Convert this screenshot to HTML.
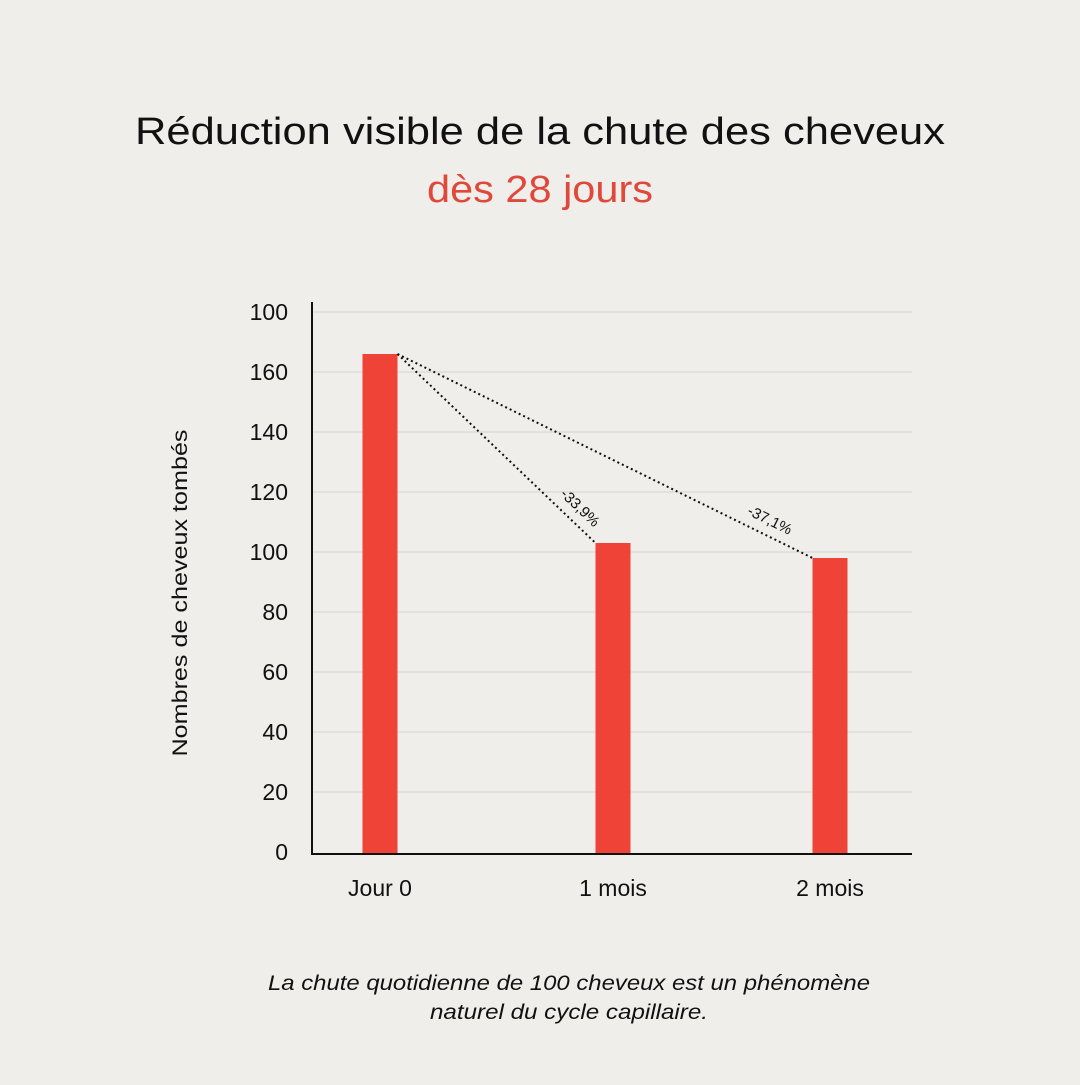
<!DOCTYPE html>
<html><head><meta charset="utf-8">
<style>
html,body{margin:0;padding:0;background:#efeeeb;}
body{width:1080px;height:1080px;overflow:hidden;font-family:"Liberation Sans",sans-serif;}
</style></head>
<body>
<svg width="1080" height="1080" xmlns="http://www.w3.org/2000/svg">
<rect width="1080" height="1080" fill="#efeeeb"/>
<text x="540" y="144" text-anchor="middle" font-size="38" fill="#111" textLength="810" lengthAdjust="spacingAndGlyphs">Réduction visible de la chute des cheveux</text>
<text x="540" y="202" text-anchor="middle" font-size="38" fill="#e0483a" textLength="226" lengthAdjust="spacingAndGlyphs">dès 28 jours</text>
<g id="grid"></g>
<g id="yticks"></g>
<g id="bars"></g>
<g id="xlabels"></g>
<g id="annot"></g>
<line x1="312" y1="302" x2="312" y2="854" stroke="#111" stroke-width="2"/>
<line x1="311" y1="854" x2="912" y2="854" stroke="#111" stroke-width="2"/>
<text transform="translate(187,593) rotate(-90)" text-anchor="middle" font-size="21" fill="#111" textLength="327" lengthAdjust="spacingAndGlyphs">Nombres de cheveux tombés</text>
<text x="569" y="990" text-anchor="middle" font-size="21" font-style="italic" fill="#111" textLength="602" lengthAdjust="spacingAndGlyphs">La chute quotidienne de 100 cheveux est un phénomène</text>
<text x="569" y="1019" text-anchor="middle" font-size="21" font-style="italic" fill="#111" textLength="278" lengthAdjust="spacingAndGlyphs">naturel du cycle capillaire.</text>
</svg>
<script>
const categories = ["Jour 0", "1 mois", "2 mois"];
const values = [166, 103, 98];
const tickValues = [0, 20, 40, 60, 80, 100, 120, 140, 160, 180];
const tickLabels = ["0", "20", "40", "60", "80", "100", "120", "140", "160", "100"];
const reductions = ["-33,9%", "-37,1%"];

const NS = "http://www.w3.org/2000/svg";
const y = v => 852 - v * 3;
const x = i => 380 + i * 225 + (i > 0 ? 8 - (i - 1) * 8 : 0);
const barW = 35;
function mk(tag, attrs, parent) {
  const e = document.createElementNS(NS, tag);
  for (const k in attrs) e.setAttribute(k, attrs[k]);
  document.getElementById(parent).appendChild(e);
  return e;
}
tickValues.forEach((v, i) => {
  if (v > 0) {
    const g = mk("line", {x1: 312, x2: 912, y1: y(v), y2: y(v), stroke: "#d6d4d0", "stroke-width": 1}, "grid");
    
    
  }
  const t = mk("text", {x: 288, y: y(v) + 8, "text-anchor": "end", "font-size": 23, fill: "#111"}, "yticks");
  t.textContent = tickLabels[i];
  
  
});
values.forEach((v, i) => {
  const b = mk("rect", {x: x(i) - barW / 2, y: y(v), width: barW, height: y(0) - y(v) + 1, fill: "#ef4338"}, "bars");
  
  
  const t = mk("text", {x: x(i), y: 896, "text-anchor": "middle", "font-size": 23, fill: "#111"}, "xlabels");
  t.textContent = categories[i];
  
  
});
const x0 = x(0) + barW / 2, y0 = y(values[0]);
for (let i = 1; i < values.length; i++) {
  const x1 = x(i) - barW / 2, y1 = y(values[i]);
  const l = mk("line", {x1: x0, y1: y0, x2: x1, y2: y1, stroke: "#111", "stroke-width": 2, "stroke-dasharray": "2 3"}, "annot");
  
  
  const ang = Math.atan2(y1 - y0, x1 - x0) * 180 / Math.PI;
  const px = x0 + (x1 - x0) * 0.88, py = y0 + (y1 - y0) * 0.88;
  const t = mk("text", {x: 0, y: 0, "text-anchor": "middle", "font-size": 15, fill: "#111",
    transform: `translate(${px + 5},${py - 9}) rotate(${ang})`}, "annot");
  t.textContent = reductions[i - 1];
  
  
}
</script>
</body></html>
